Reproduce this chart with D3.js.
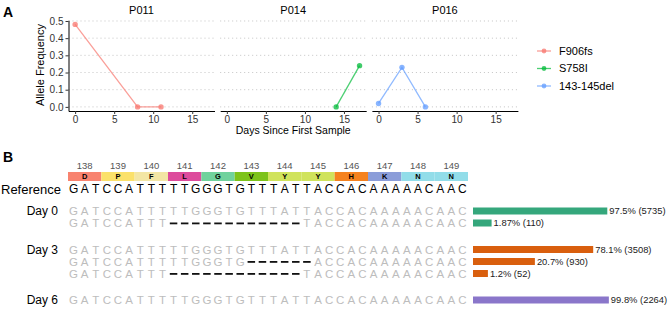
<!DOCTYPE html>
<html><head><meta charset="utf-8">
<script src="https://cdn.jsdelivr.net/npm/d3@7"></script>
<style>body{margin:0;background:#fff}svg{display:block;font-family:"Liberation Sans",Arial,sans-serif}</style>
</head><body><svg id="c" width="668" height="309"></svg>
<script>
// ---------- Panel A data ----------
const patients = ["P011", "P014", "P016"];
const variants = ["F906fs", "S758I", "143-145del"];
const variantColors = ["#F8766D", "#00BA38", "#619CFF"];
const p011Days = [0, 8, 11];
const p011Freq = [0.48, 0.0, 0.0];
const p014Days = [14, 17];
const p014Freq = [0.0, 0.24];
const p016Days = [0, 3, 6];
const p016Freq = [0.02, 0.23, 0.0];
const xTicks = [0, 5, 10, 15];
const yTicks = [0, 0.1, 0.2, 0.3, 0.4, 0.5];

// ---------- Panel B data ----------
const codonNumbers = [138, 139, 140, 141, 142, 143, 144, 145, 146, 147, 148, 149];
const aminoAcids = ["D", "P", "F", "L", "G", "V", "Y", "Y", "H", "K", "N", "N"];
const aaColors = ["#F8836F", "#FBE16A", "#F3E6A4", "#DD4B9C", "#70D29C", "#7DC31A", "#D0E35C", "#D0E35C", "#F5821F", "#8B9DD9", "#92DDE9", "#92DDE9"];
const referenceSeq = "GATCCATTTTTGGGTGTTTATTACCACAAAAACAAC";
const dayLabels = ["Day 0", "Day 3", "Day 6"];
const dayColors = ["#35A77C", "#D95F0E", "#8A76CA"];
const readSeqs = [
  "GATCCATTTTTGGGTGTTTATTACCACAAAAACAAC",
  "GATCCATTT------------TACCACAAAAACAAC",
  "GATCCATTTTTGGGTGTTTATTACCACAAAAACAAC",
  "GATCCATTTTTGGGTG------ACCACAAAAACAAC",
  "GATCCATTT------------TACCACAAAAACAAC",
  "GATCCATTTTTGGGTGTTTATTACCACAAAAACAAC"
];
const readDay = [0, 0, 1, 1, 1, 2];
const readPct = [97.5, 1.87, 78.1, 20.7, 1.2, 99.8];
const readPctLabel = ["97.5%", "1.87%", "78.1%", "20.7%", "1.2%", "99.8%"];
const readCounts = [5735, 110, 3508, 930, 52, 2264];

const svg = d3.select("#c");

// ================= Panel A =================
const seriesDays = [p011Days, p014Days, p016Days];
const seriesFreq = [p011Freq, p014Freq, p016Freq];
const panelW = 146, panelGap = 5.7, panelX0 = 68.5;
const y = d3.scaleLinear().domain([-0.024, 0.504]).range([111, 20.3]);
const xBase = d3.scaleLinear().domain([-0.85, 17.85]).range([0, panelW]);

svg.append("text").attr("x", 3).attr("y", 17).attr("font-size", 14).attr("font-weight", "bold").text("A");

patients.forEach((p, i) => {
  const g = svg.append("g").attr("transform", `translate(${panelX0 + i * (panelW + panelGap)},0)`);
  g.selectAll("line.grid").data(yTicks).join("line")
    .attr("x1", 0).attr("x2", panelW).attr("y1", d => y(d)).attr("y2", d => y(d))
    .attr("stroke", "#c4c4c4").attr("stroke-width", 1).attr("stroke-dasharray", "1,3");
  const ax = g.append("g").attr("transform", "translate(0,111)")
    .call(d3.axisBottom(xBase).tickValues(xTicks).tickSize(3).tickPadding(2).tickSizeOuter(0));
  ax.select(".domain").attr("stroke", "#000");
  ax.selectAll("text").attr("font-size", 10).attr("fill", "#333").attr("font-family", "Liberation Sans, Arial, sans-serif");
  ax.selectAll(".tick line").attr("stroke", "#333");
  g.append("text").attr("x", panelW / 2).attr("y", 14).attr("text-anchor", "middle").attr("font-size", 11).text(p);
  const pts = seriesDays[i].map((d, k) => [d, seriesFreq[i][k]]);
  g.append("path").datum(pts)
    .attr("d", d3.line().x(d => xBase(d[0])).y(d => y(d[1])))
    .attr("fill", "none").attr("stroke", variantColors[i]).attr("stroke-opacity", 0.7).attr("stroke-width", 1.3);
  g.selectAll("circle").data(pts).join("circle")
    .attr("cx", d => xBase(d[0])).attr("cy", d => y(d[1])).attr("r", 2.7)
    .attr("fill", variantColors[i]).attr("fill-opacity", 0.75);
});
const ay = svg.append("g").attr("transform", `translate(${panelX0},0)`)
  .call(d3.axisLeft(y).tickValues(yTicks).tickFormat(d3.format(".1f")).tickSize(3).tickPadding(2).tickSizeOuter(0));
ay.select(".domain").attr("stroke", "#000");
ay.selectAll("text").attr("font-size", 10).attr("fill", "#333").attr("font-family", "Liberation Sans, Arial, sans-serif");
ay.selectAll(".tick line").attr("stroke", "#333");

svg.append("text").attr("transform", "translate(44,65) rotate(-90)").attr("text-anchor", "middle")
  .attr("font-size", 11).text("Allele Frequency");
svg.append("text").attr("x", panelX0 + (3 * panelW + 2 * panelGap) / 2).attr("y", 134)
  .attr("text-anchor", "middle").attr("font-size", 10.5).text("Days Since First Sample");

const lg = svg.append("g").attr("transform", "translate(537,51)");
variants.forEach((v, i) => {
  const r = lg.append("g").attr("transform", `translate(0,${i * 17.5})`);
  r.append("line").attr("x1", 0).attr("x2", 14).attr("stroke", variantColors[i]).attr("stroke-opacity", 0.7).attr("stroke-width", 1.3);
  r.append("circle").attr("cx", 7).attr("r", 2.4).attr("fill", variantColors[i]).attr("fill-opacity", 0.75);
  r.append("text").attr("x", 22).attr("dy", "0.35em").attr("font-size", 11).text(v);
});

// ================= Panel B =================
svg.append("text").attr("x", 3).attr("y", 162).attr("font-size", 14).attr("font-weight", "bold").text("B");

const nt = d3.scaleBand().domain(d3.range(referenceSeq.length)).range([68, 468]);
const codonW = nt.bandwidth() * 3;

const aaG = svg.append("g");
aaG.selectAll("text.num").data(codonNumbers).join("text")
  .attr("x", (d, i) => nt(i * 3) + codonW / 2).attr("y", 169).attr("text-anchor", "middle")
  .attr("font-size", 9.5).attr("fill", "#555").text(d => d);
aaG.selectAll("rect").data(aminoAcids).join("rect")
  .attr("x", (d, i) => nt(i * 3)).attr("y", 172).attr("width", codonW).attr("height", 9)
  .attr("fill", (d, i) => aaColors[i]);
aaG.selectAll("text.aa").data(aminoAcids).join("text")
  .attr("x", (d, i) => nt(i * 3) + codonW / 2).attr("y", 176.5).attr("dy", "0.35em")
  .attr("text-anchor", "middle").attr("font-size", 7.5).attr("font-weight", "bold").text(d => d);

svg.append("text").attr("x", 1).attr("y", 189).attr("dy", "0.35em").attr("font-size", 13).text("Reference");
svg.append("g").selectAll("text").data(referenceSeq.split("")).join("text")
  .attr("x", (d, i) => nt(i) + nt.bandwidth() / 2).attr("y", 189).attr("dy", "0.35em")
  .attr("text-anchor", "middle").attr("font-size", 12).attr("fill", "#000").text(d => d);

const rowY = (k) => 211 + k * 12 + readDay[k] * 14.5;
const barX = 473;
const bw = d3.scaleSqrt().domain([0, 100]).range([0, 136]);

dayLabels.forEach((lab, di) => {
  const k = readDay.indexOf(di);
  svg.append("text").attr("x", 58).attr("y", rowY(k)).attr("dy", "0.35em")
    .attr("text-anchor", "end").attr("font-size", 12).text(lab);
});

readSeqs.forEach((s, k) => {
  const g = svg.append("g");
  const chars = s.split("").map((c, i) => ({ c, i }));
  g.selectAll("text").data(chars.filter(d => d.c !== "-")).join("text")
    .attr("x", d => nt(d.i) + nt.bandwidth() / 2).attr("y", rowY(k)).attr("dy", "0.35em")
    .attr("text-anchor", "middle").attr("font-size", 11.5).attr("fill", "#BDBDBD").text(d => d.c);
  g.selectAll("rect").data(chars.filter(d => d.c === "-")).join("rect")
    .attr("x", d => nt(d.i) + 1.8).attr("y", rowY(k) - 0.5).attr("width", nt.bandwidth() - 3.6).attr("height", 1.8)
    .attr("fill", "#111");
  g.append("rect").attr("x", barX).attr("y", rowY(k) - 3.5).attr("width", bw(readPct[k])).attr("height", 7)
    .attr("fill", dayColors[readDay[k]]);
  g.append("text").attr("x", barX + bw(readPct[k]) + 2).attr("y", rowY(k)).attr("dy", "0.35em")
    .attr("font-size", 9.4).attr("fill", "#222").text(`${readPctLabel[k]} (${readCounts[k]})`);
});
</script></body></html>
